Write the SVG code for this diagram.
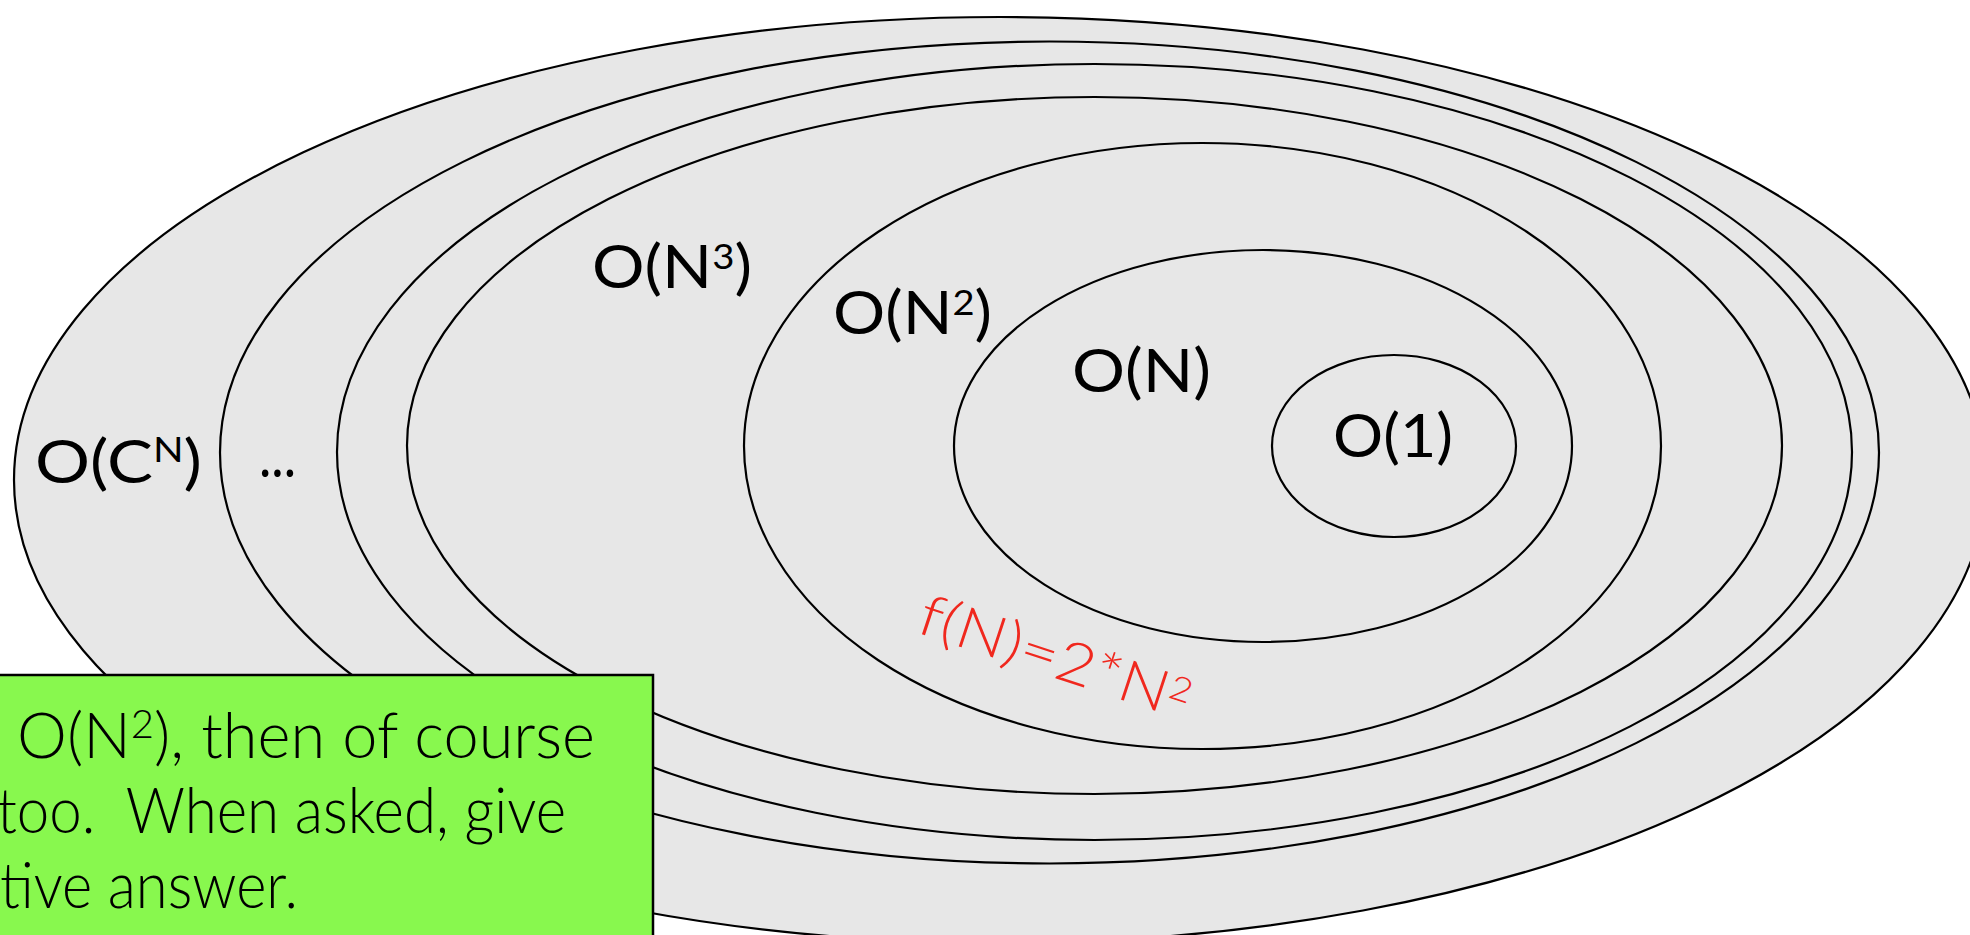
<svg xmlns="http://www.w3.org/2000/svg" width="1970" height="935" viewBox="0 0 1970 935">
<style>
.ring{fill:#e7e7e7;stroke:#000;stroke-width:2.2}
.lbl{font-family:Lato,"Liberation Sans",sans-serif;font-size:60px;fill:#000}
.sup{font-size:35px}
.note{font-family:Lato,"Liberation Sans",sans-serif;font-size:63px;font-weight:300;fill:#000}
.red{font-family:Lato,"Liberation Sans",sans-serif;font-size:58px;font-weight:300;fill:#f0281e}
</style>
<rect width="1970" height="935" fill="#fff"/>
<g id="node-exp">
<ellipse class="ring" cx="1000" cy="480" rx="986" ry="463"/>
<text class="lbl" x="35" y="483" textLength="167" lengthAdjust="spacingAndGlyphs">O(C<tspan class="sup" dy="-21">N</tspan><tspan dy="21">)</tspan></text>
</g>
<g id="node-dots">
<ellipse class="ring" cx="1049.5" cy="452.5" rx="829.5" ry="411"/>
<text class="lbl" x="259" y="477" textLength="37" lengthAdjust="spacingAndGlyphs">...</text>
</g>
<g id="node-ring3">
<ellipse class="ring" cx="1094.5" cy="452" rx="757.5" ry="388"/>
</g>
<g id="node-n3">
<ellipse class="ring" cx="1094.5" cy="445.5" rx="687.5" ry="348.5"/>
<text class="lbl" x="592" y="288" textLength="160" lengthAdjust="spacingAndGlyphs">O(N<tspan class="sup" dy="-19">3</tspan><tspan dy="19">)</tspan></text>
</g>
<g id="node-n2">
<ellipse class="ring" cx="1202.5" cy="446" rx="458.5" ry="303"/>
<text class="lbl" x="833" y="334" textLength="159" lengthAdjust="spacingAndGlyphs">O(N<tspan class="sup" dy="-19">2</tspan><tspan dy="19">)</tspan></text>
</g>
<g id="node-n">
<ellipse class="ring" cx="1263" cy="446" rx="309" ry="196"/>
<text class="lbl" x="1072" y="392" textLength="139" lengthAdjust="spacingAndGlyphs">O(N)</text>
</g>
<g id="node-1">
<ellipse class="ring" cx="1394" cy="446" rx="122" ry="91"/>
<text class="lbl" x="1333" y="457" textLength="120" lengthAdjust="spacingAndGlyphs">O(1)</text>
</g>
<g id="annotation-f">
<text class="red" x="915" y="632" transform="rotate(18.2 915 632)" textLength="282" lengthAdjust="spacingAndGlyphs">f(N)=2*N<tspan font-size="34" dy="-17">2</tspan></text>
</g>
<g id="note">
<rect x="-10" y="675" width="663" height="280" fill="#88f84e" stroke="#000" stroke-width="2.5"/>
<text class="note" x="17" y="758" textLength="578" lengthAdjust="spacingAndGlyphs">O(N<tspan font-size="40" dy="-20">2</tspan><tspan dy="20">), then of course</tspan></text>
<text class="note" x="-3" y="833" textLength="569" lengthAdjust="spacingAndGlyphs" xml:space="preserve">too.  When asked, give</text>
<text class="note" x="0" y="908" textLength="298" lengthAdjust="spacingAndGlyphs">tive answer.</text>
</g>
</svg>
